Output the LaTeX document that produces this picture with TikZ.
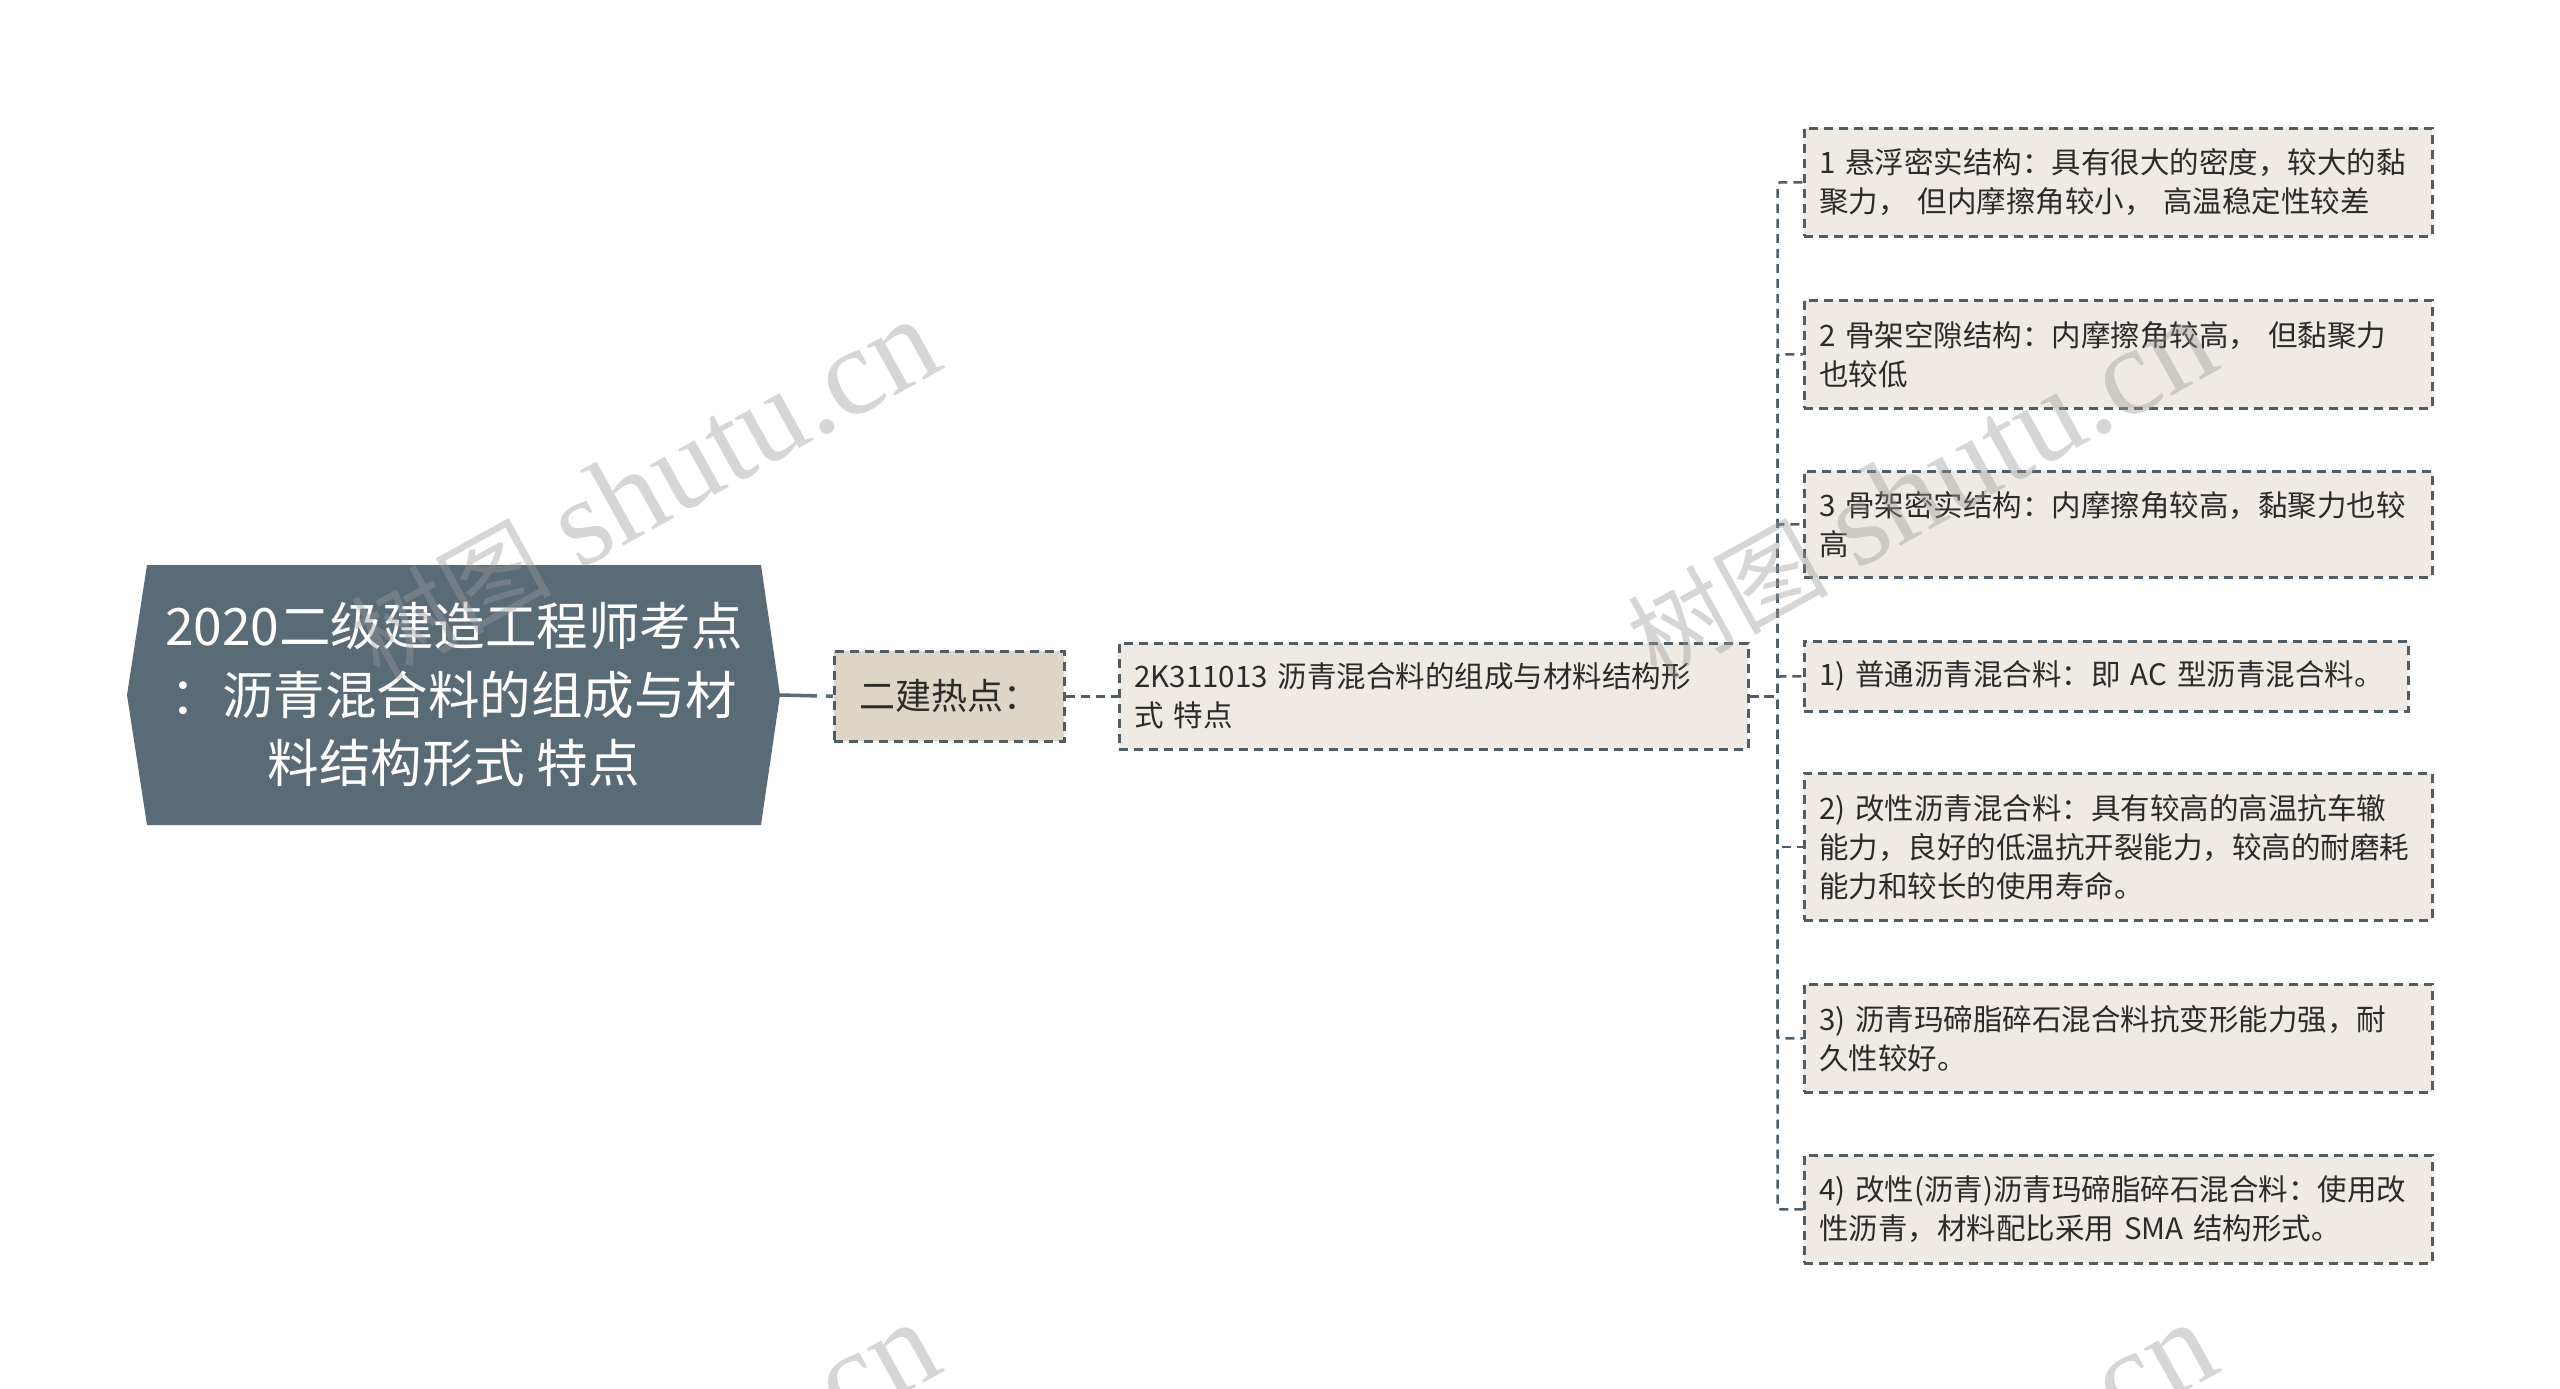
\documentclass[tikz,border=0pt]{standalone}
\usepackage{fontspec}
\setmainfont{Noto Sans CJK SC}
\newfontfamily\wmserif{Liberation Serif}
\newfontfamily\cjk{Noto Sans CJK SC}
\definecolor{rootfill}{HTML}{5A6B78}
\definecolor{hotfill}{HTML}{DDD5C6}
\definecolor{leaffill}{HTML}{EFEBE4}
\definecolor{linec}{HTML}{4F5D67}
\definecolor{txt}{HTML}{2B2B2B}
\definecolor{wmc}{HTML}{9A9A9A}
\begin{document}
\begin{tikzpicture}[x=1pt,y=-1pt,
  dashbox/.style={draw=linec, line width=2.5pt, dash pattern=on 9pt off 6pt, anchor=north west,
    inner xsep=15pt, inner ysep=0pt, align=left, text=txt, font=\fontsize{29.5}{39}\selectfont},
  leaf/.style={dashbox, fill=leaffill, minimum width=628pt, text width=598pt},
  conn/.style={draw=linec, line width=2.5pt, dash pattern=on 9pt off 6pt, rounded corners=3pt},
  wm/.style={text=wmc, text opacity=0.4, inner sep=0pt, anchor=base east, rotate=29,
    font=\fontsize{125}{125}\selectfont}]
\useasboundingbox (0,0) rectangle (2560,1389);
\fill[white] (0,0) rectangle (2560,1389);

% root
\fill[rootfill] (127,695) -- (147,565) -- (761,565) -- (780,695) -- (761,825) -- (147,825) -- cycle;
\node[text=white, align=center, font=\fontsize{51.5}{68.5}\selectfont, minimum width=614pt,
  minimum height=260pt, inner sep=0pt] (root) at (454,695)
  {2020二级建造工程师考点\\：沥青混合料的组成与材\\料结构形式~特点};
\coordinate (rootTip) at (780,695);

% level 1
\node[dashbox, fill=hotfill, minimum width=230pt, minimum height=90pt, align=center,
  font=\fontsize{36}{40}\selectfont, inner xsep=0pt] (hot) at (833,650) {二建热点：};

% level 2
\node[leaf, minimum width=629pt, minimum height=106pt, text width=599pt] (k) at (1118,642)
  {2K311013~沥青混合料的组成与材料结构形\\式~特点};

% leaves
\node[leaf, minimum height=108pt] (b1) at (1803,127)
  {1~悬浮密实结构：具有很大的密度，较大的黏\\聚力，~但内摩擦角较小，~高温稳定性较差};
\node[leaf, minimum height=108pt] (b2) at (1803,299)
  {2~骨架空隙结构：内摩擦角较高，~但黏聚力\\也较低};
\node[leaf, minimum height=106pt] (b3) at (1803,470)
  {3~骨架密实结构：内摩擦角较高，黏聚力也较\\高};
\node[leaf, minimum width=604pt, text width=574pt, minimum height=70pt] (b4) at (1803,640)
  {1)~普通沥青混合料：即~AC~型沥青混合料。};
\node[leaf, minimum height=147pt] (b5) at (1803,772)
  {2)~改性沥青混合料：具有较高的高温抗车辙\\能力，良好的低温抗开裂能力，较高的耐磨耗\\能力和较长的使用寿命。};
\node[leaf, minimum height=108pt] (b6) at (1803,983)
  {3)~沥青玛碲脂碎石混合料抗变形能力强，耐\\久性较好。};
\node[leaf, minimum height=108pt] (b7) at (1803,1154)
  {4)~改性(沥青)沥青玛碲脂碎石混合料：使用改\\性沥青，材料配比采用~SMA~结构形式。};

% connectors
\draw[draw=rootfill, line width=3.5pt, dash pattern=on 37pt off 9pt on 7pt off 20pt] (rootTip) -- (hot.west);
\draw[conn] (hot.east) -- (k.west);
\foreach \b in {b1,b2,b3,b4,b5,b6,b7}
  \draw[conn] (k.east) -- ++(28,0) |- (\b.west);

% watermarks
\begin{scope}
\clip (0,0) rectangle (2560,1389);
\node[wm] (wm1) at (947,367) {{\cjk\fontsize{100}{100}\selectfont 树图}~{\wmserif shutu.cn}};
\node[wm] (wm2) at (2224,367) {{\cjk\fontsize{100}{100}\selectfont 树图}~{\wmserif shutu.cn}};
\node[wm] (wm3) at (947,1370) {{\cjk\fontsize{100}{100}\selectfont 树图}~{\wmserif shutu.cn}};
\node[wm] (wm4) at (2224,1370) {{\cjk\fontsize{100}{100}\selectfont 树图}~{\wmserif shutu.cn}};
\end{scope}
\end{tikzpicture}
\end{document}
